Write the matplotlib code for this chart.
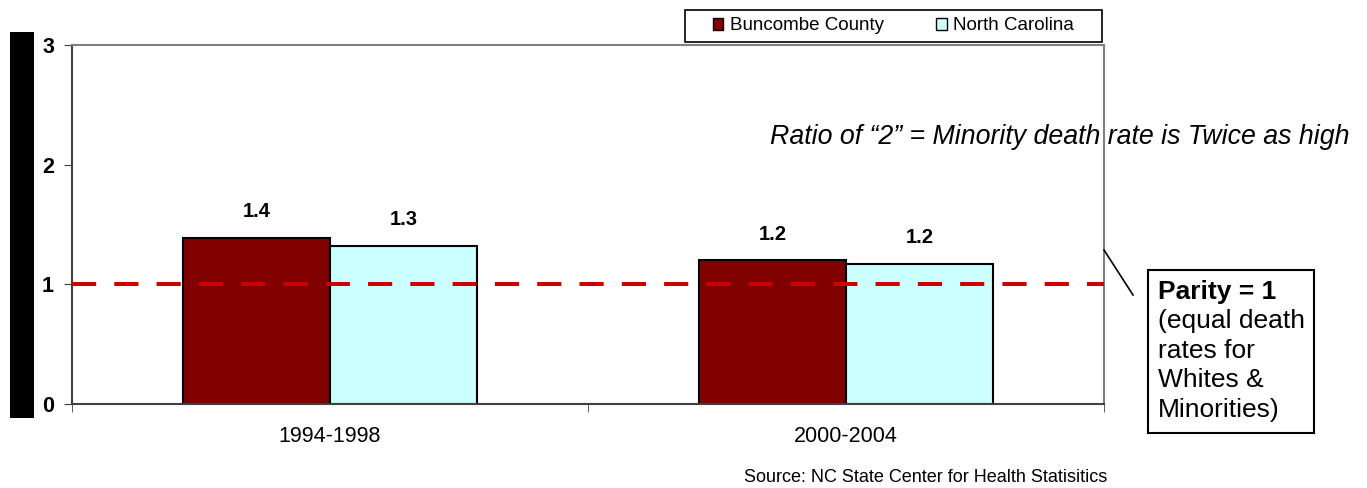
import matplotlib
matplotlib.use('Agg')
import matplotlib.pyplot as plt
import numpy as np
from matplotlib.patches import Rectangle
from matplotlib.lines import Line2D

plt.rcParams['font.family'] = ['Liberation Sans', 'DejaVu Sans']

periods = ['1994-1998', '2000-2004']
series = ['Buncombe County', 'North Carolina']
buncombe = [1.39, 1.20]
north_carolina = [1.32, 1.17]
colors = ['#800000', '#CCFFFF']
yticks = [0, 1, 2, 3]

W, H = 1367, 488
fig = plt.figure(figsize=(W / 100, H / 100), dpi=100)
ax = fig.add_axes([72 / W, 1 - 404 / H, (1104 - 72) / W, (404 - 45) / H])

x = np.arange(len(periods))
bw = 0.285
b1 = ax.bar(x - bw / 2, buncombe, bw, color=colors[0], edgecolor='black', linewidth=1.5, label=series[0], zorder=2)
b2 = ax.bar(x + bw / 2, north_carolina, bw, color=colors[1], edgecolor='black', linewidth=1.5, label=series[1], zorder=2)

for bars, vals in [(b1, buncombe), (b2, north_carolina)]:
    for r, v in zip(bars, vals):
        ax.annotate(f'{v:.1f}', (r.get_x() + r.get_width() / 2, v), xytext=(0, 12),
                    textcoords='offset points', ha='center', va='bottom',
                    fontsize=14.5, fontweight='bold')

# parity line
ax.axhline(1, color='#CC0000', linewidth=2.9, linestyle=(0, (6, 4.5)), zorder=3)

ax.set_xlim(-0.5, 1.5)
ax.set_ylim(0, 3)
ax.set_yticks(yticks)
ax.set_yticklabels([str(t) for t in yticks], fontsize=15.5, fontweight='bold')
ax.set_xticks(x)
ax.set_xticklabels(periods, fontsize=15.5)
ax.set_xticks([-0.5, 0.5, 1.5], minor=True)
ax.tick_params(axis='x', which='major', length=0, pad=16)
ax.tick_params(axis='x', which='minor', length=6, color='#404040')
ax.tick_params(axis='y', length=6, pad=7, color='#404040')

for s in ['top', 'right']:
    ax.spines[s].set_color('#808080')
    ax.spines[s].set_linewidth(1.5)
for s in ['left', 'bottom']:
    ax.spines[s].set_color('#404040')
    ax.spines[s].set_linewidth(1.5)

# legend: own frame, contents centred inside
fig.patches.append(Rectangle((685 / W, 1 - 42 / H), (1102 - 685) / W, 32 / H,
                             transform=fig.transFigure, facecolor='white', edgecolor='black',
                             linewidth=1.2))
leg = fig.legend(handles=[b1, b2], labels=series, loc='center',
                 bbox_to_anchor=(685 / W, 1 - 42 / H, (1102 - 685) / W, 32 / H),
                 ncol=2, fontsize=13.5, frameon=False,
                 handlelength=0.55, handleheight=0.55,
                 handletextpad=0.35, columnspacing=2.8, borderpad=0.3, borderaxespad=0)
for p in leg.legend_handles:
    p.set_linewidth(1.0)

# black bar on the left
fig.patches.append(Rectangle((10 / W, 1 - 418 / H), 24 / W, (418 - 32) / H,
                             transform=fig.transFigure, facecolor='black', edgecolor='none'))

fig.text(770 / W, 1 - 137 / H, 'Ratio of \u201c2\u201d = Minority death rate is Twice as high',
         fontsize=19.3, style='italic', va='center', ha='left')

# parity box
fig.patches.append(Rectangle((1148 / W, 1 - 433 / H), (1314 - 1148) / W, (433 - 270) / H,
                             transform=fig.transFigure, facecolor='white', edgecolor='black',
                             linewidth=1.5))
fig.lines.append(Line2D([1104 / W, 1133 / W], [1 - 250 / H, 1 - 295 / H],
                        transform=fig.transFigure, color='black', linewidth=1.2))
fig.text(1158 / W, 1 - 280 / H, 'Parity = 1', fontsize=19, fontweight='bold', va='top', ha='left')
fig.text(1158 / W, 1 - 309 / H, '(equal death\nrates for\nWhites &\nMinorities)',
         fontsize=19, va='top', ha='left', linespacing=1.3)

fig.text(926 / W, 1 - 478 / H, 'Source: NC State Center for Health Statisitics',
         fontsize=13, ha='center', va='center')

fig.savefig('out.png', dpi=100)
